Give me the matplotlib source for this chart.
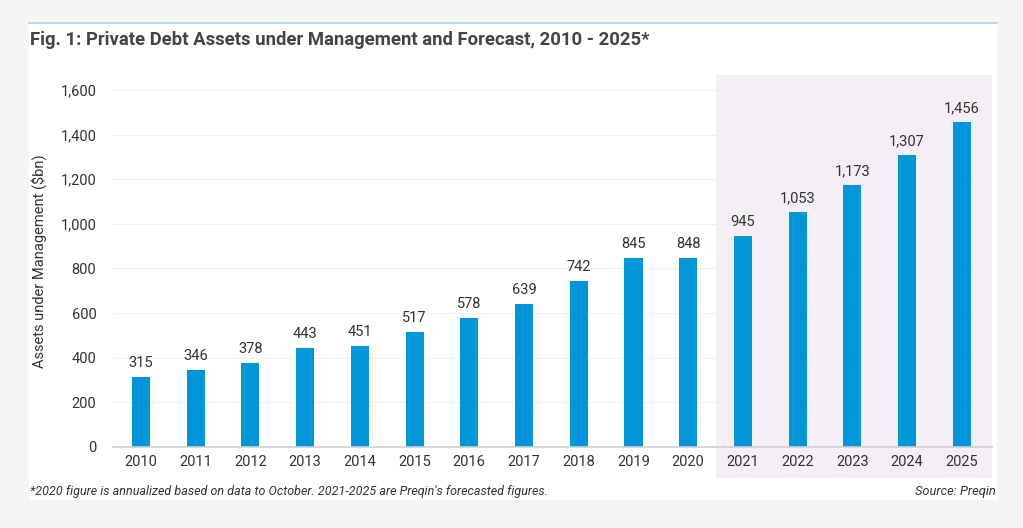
import matplotlib.pyplot as plt
from matplotlib.patches import Rectangle
import matplotlib.transforms as mtransforms
from matplotlib.lines import Line2D

plt.rcParams["font.family"] = ["Roboto", "DejaVu Sans"]

years = ["2010", "2011", "2012", "2013", "2014", "2015", "2016", "2017",
         "2018", "2019", "2020", "2021", "2022", "2023", "2024", "2025"]
aum = [315, 346, 378, 443, 451, 517, 578, 639, 742, 845, 848,
       945, 1053, 1173, 1307, 1456]
forecast_start = 11  # index of 2021
yticks = [0, 200, 400, 600, 800, 1000, 1200, 1400, 1600]

W, H = 1023, 528
fig = plt.figure(figsize=(W / 100, H / 100), dpi=100)
fig.patch.set_facecolor("#f6f5f3")

# white card behind the chart
card = Rectangle((29 / W, 1 - 500 / H), (997 - 29) / W, (500 - 22) / H,
                 transform=fig.transFigure, facecolor="white", edgecolor="none", zorder=-5)
fig.patches.append(card)
fig.lines.append(Line2D([29 / W, 997 / W], [1 - 23 / H, 1 - 23 / H],
                        transform=fig.transFigure, color="#a9d3e3", linewidth=1.2, zorder=-4))

ax = fig.add_axes([113 / W, 1 - 447 / H, (992 - 113) / W, (447 - 75) / H])
ax.set_facecolor("none")

x = list(range(len(years)))
ax.bar(x, aum, width=0.33, color="#0096d8", zorder=3)

ax.set_xlim(-0.51, len(years) - 0.45)
ax.set_ylim(0, 1667)

# forecast shading, reaching below the axis to cover the tick labels
trans = mtransforms.blended_transform_factory(ax.transData, ax.transAxes)
ax.add_patch(Rectangle((forecast_start - 0.5, -0.083), len(years) - 0.45 - (forecast_start - 0.5), 1.083,
                       transform=trans, facecolor="#f3eff5", edgecolor="none",
                       clip_on=False, zorder=0))

for xi, v in zip(x, aum):
    ax.annotate(f"{v:,}", (xi, v), xytext=(0, 5), textcoords="offset points",
                ha="center", va="bottom", fontsize=10.5, color="#333333", zorder=4)

ax.set_yticks(yticks)
ax.set_yticklabels([f"{t:,}" for t in yticks])
ax.set_xticks(x)
ax.set_xticklabels(years)
ax.tick_params(axis="both", length=0, labelsize=10.5, colors="#333333")
ax.tick_params(axis="y", pad=12)
ax.tick_params(axis="x", pad=6)
ax.grid(axis="y", color="#f0f0f0", linewidth=0.8, zorder=1)
for s in ["top", "right", "left"]:
    ax.spines[s].set_visible(False)
ax.spines["bottom"].set_color("#d0d0d0")
ax.spines["bottom"].set_linewidth(1.2)
ax.spines["bottom"].set_zorder(4)

ax.set_ylabel("Assets under Management (\\$bn)", fontsize=10.5, color="#333333", labelpad=10)

fig.text(30 / W, 1 - 40 / H, "Fig. 1: Private Debt Assets under Management and Forecast, 2010 - 2025*",
         fontsize=13.3, fontweight="bold", color="#444444", ha="left", va="center")
fig.text(30 / W, 1 - 491 / H,
         "*2020 figure is annualized based on data to October. 2021-2025 are Preqin's forecasted figures.",
         fontsize=9, style="italic", color="#333333", ha="left", va="center")
fig.text(996 / W, 1 - 491 / H, "Source: Preqin", fontsize=9.3, style="italic",
         color="#333333", ha="right", va="center")

fig.savefig("out.png", dpi=100, facecolor=fig.get_facecolor())
